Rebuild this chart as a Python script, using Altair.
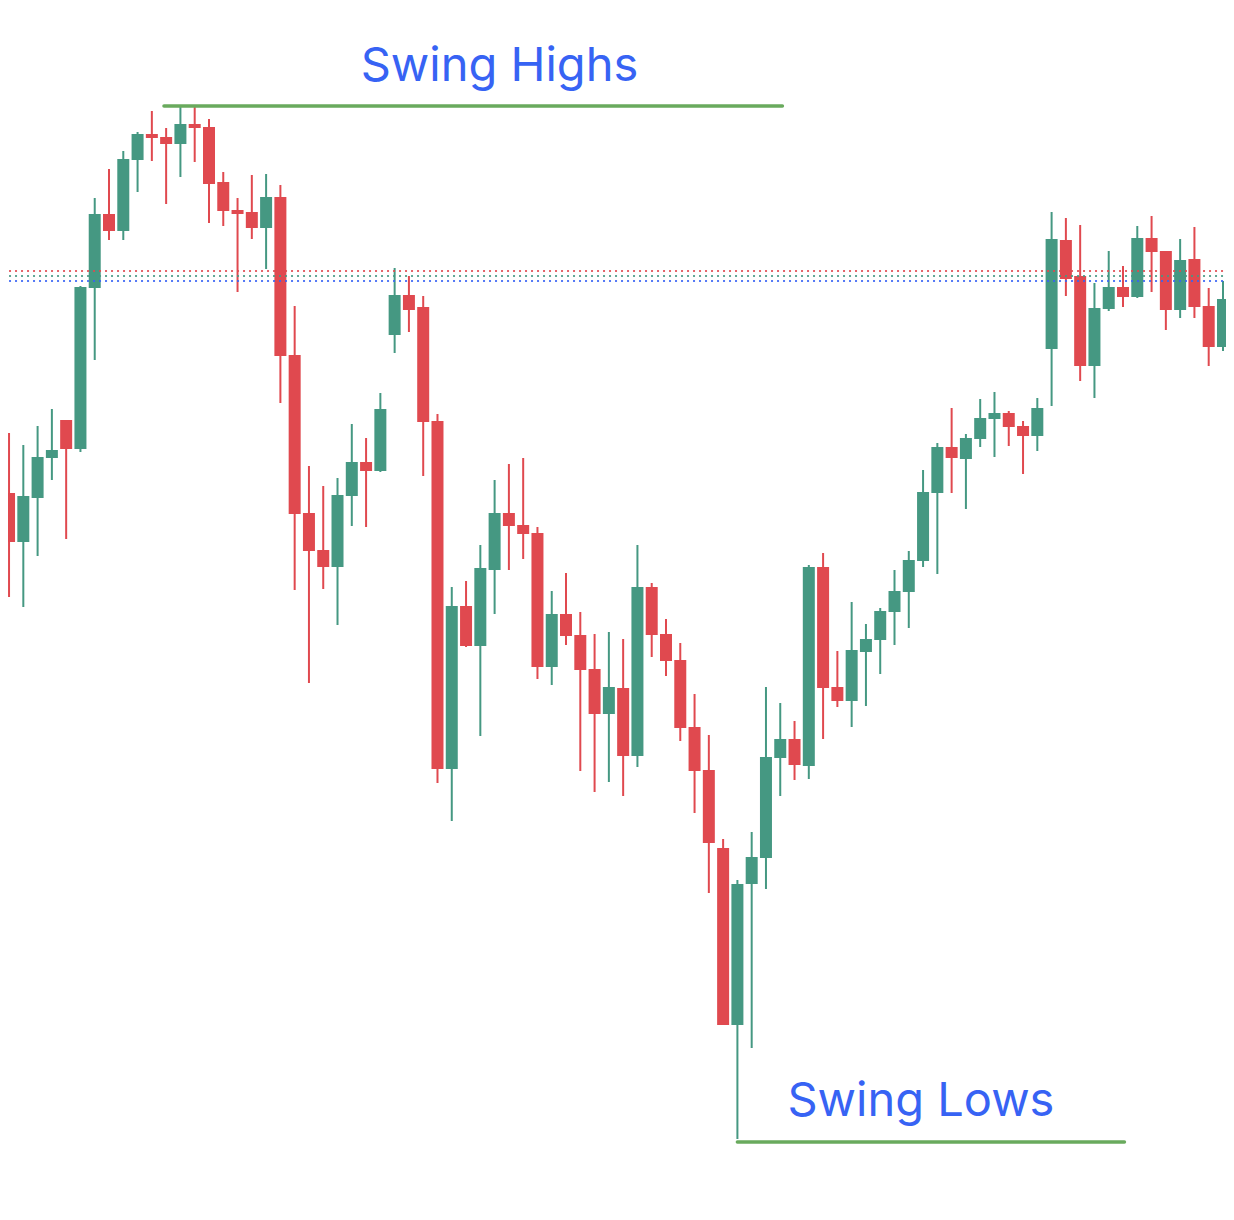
import altair as alt
import pandas as pd

# OHLC values (arbitrary price units)
opens = [80.7, 75.8, 80.2, 84.2, 88.0, 85.1, 101.2, 108.6, 106.9, 114.0,
         116.6, 116.3, 115.6, 117.6, 117.3, 111.8, 109.0, 108.8, 107.2, 110.3,
         94.5, 78.7, 75.0, 73.3, 80.4, 83.8, 82.9, 96.5, 100.5, 99.3,
         87.9, 53.1, 69.4, 65.4, 73.0, 78.7, 77.5, 76.7, 63.3, 68.6,
         66.5, 63.1, 58.6, 61.2, 54.4, 71.3, 66.6, 64.0, 57.3, 53.0,
         45.2, 27.5, 41.6, 44.2, 54.2, 56.1, 53.4, 73.3, 61.3, 59.9,
         64.8, 66.0, 68.8, 70.8, 73.9, 80.7, 85.3, 84.1, 86.1, 88.1,
         88.7, 87.4, 86.4, 95.1, 106.0, 102.4, 93.4, 99.1, 101.3, 100.3,
         106.2, 104.9, 99.0, 104.1, 99.4, 95.3]
highs = [86.7, 85.5, 87.4, 89.1, 88.0, 101.4, 110.2, 113.1, 114.9, 116.8,
         118.9, 117.2, 119.4, 119.4, 118.1, 112.8, 110.2, 112.5, 112.6, 111.5,
         99.4, 83.4, 81.4, 82.2, 87.6, 86.2, 90.7, 103.2, 102.4, 100.4,
         88.6, 71.3, 71.9, 75.5, 82.0, 83.6, 84.2, 77.3, 70.9, 72.7,
         68.8, 66.6, 66.8, 66.1, 75.5, 71.7, 68.1, 65.7, 60.6, 56.5,
         46.1, 42.0, 46.8, 61.3, 59.7, 57.9, 73.5, 74.7, 64.9, 69.8,
         67.6, 69.2, 73.0, 74.9, 83.0, 85.7, 89.2, 86.6, 90.1, 90.8,
         88.9, 87.9, 90.2, 108.8, 108.2, 107.5, 101.7, 104.9, 103.4, 107.4,
         108.4, 104.9, 106.1, 107.3, 101.2, 101.9]
lows = [70.3, 69.3, 74.4, 82.0, 76.1, 84.8, 94.0, 106.0, 106.0, 110.8,
        113.9, 109.6, 112.3, 113.8, 107.7, 107.4, 100.8, 106.1, 103.1, 89.7,
        71.0, 61.7, 71.1, 67.5, 77.4, 77.3, 82.8, 94.7, 96.8, 82.4,
        51.7, 47.9, 65.3, 56.4, 68.6, 73.0, 74.1, 62.1, 61.5, 65.5,
        52.9, 50.8, 51.8, 50.4, 53.3, 64.3, 62.4, 55.9, 48.7, 40.7,
        27.5, 16.1, 25.2, 41.1, 50.4, 52.0, 52.1, 56.1, 59.3, 57.3,
        59.4, 62.6, 65.5, 67.2, 73.3, 72.6, 80.7, 79.1, 85.3, 84.3,
        85.4, 82.6, 84.9, 89.4, 100.4, 91.9, 90.2, 98.9, 99.3, 100.2,
        100.8, 97.0, 98.2, 98.2, 93.4, 94.9]
closes = [75.8, 80.4, 84.3, 85.0, 85.1, 101.3, 108.6, 106.9, 114.1, 116.6,
          116.2, 115.6, 117.6, 117.2, 111.6, 108.9, 108.6, 107.2, 110.3, 94.4,
          78.6, 74.9, 73.3, 80.5, 83.8, 82.9, 89.1, 100.5, 99.0, 87.8,
          53.1, 69.4, 65.4, 73.2, 78.7, 77.4, 76.6, 63.3, 68.6, 66.4,
          63.0, 58.6, 61.3, 54.4, 71.3, 66.5, 63.9, 57.2, 52.9, 45.7,
          27.5, 41.6, 44.3, 54.3, 56.1, 53.5, 73.3, 61.2, 59.9, 65.0,
          66.1, 68.9, 70.9, 74.0, 80.8, 85.3, 84.2, 86.2, 88.2, 88.7,
          87.3, 86.4, 89.2, 106.1, 102.1, 93.4, 99.2, 101.3, 100.3, 106.2,
          104.8, 99.0, 104.0, 99.3, 95.3, 100.1]

# dotted reference levels
level_values = [102.9, 102.4, 101.9]
level_names = ["red", "green", "blue"]

# swing annotations
swing_labels = ["Swing Highs", "Swing Lows"]
swing_levels = [119.4, 15.8]
swing_from = [10.85, 51.0]
swing_to = [54.15, 78.1]
label_pos = [34.34, 63.85]
label_levels = [121.9, 18.4]

UP = "#459882"
DOWN = "#e0494f"
BLUE = "#3763f4"
LINE_GREEN = "#69aa5d"

W = 1218
H = 1150
PX = 14.4  # pixels per candle

df = pd.DataFrame({
    "i": list(range(len(opens))),
    "open": opens, "high": highs, "low": lows, "close": closes,
})
df["dir"] = ["up" if c >= o else "down" for o, c in zip(opens, closes)]

d0 = 4.0 / PX
d1 = d0 + W / PX

lv = pd.DataFrame({"level": level_values, "name": level_names,
                   "x0": [0.0] * 3, "x1": [d0 + 1226 / PX] * 3})
sw = pd.DataFrame({"label": swing_labels, "level": swing_levels,
                   "x0": swing_from, "x1": swing_to,
                   "lx": label_pos, "ly": label_levels})

xs = alt.Scale(domain=[d0, d1], nice=False, zero=False)
ys = alt.Scale(domain=[129.2 - H / 10.0, 129.2], nice=False, zero=False)
col = alt.Color("dir:N", scale=alt.Scale(domain=["up", "down"], range=[UP, DOWN]), legend=None)

base = alt.Chart(df)
wicks = base.mark_rule(strokeWidth=2).encode(
    x=alt.X("i:Q", scale=xs, axis=None),
    y=alt.Y("low:Q", scale=ys, axis=None),
    y2="high:Q",
    color=col,
)
bodies = base.mark_bar(size=12).encode(
    x=alt.X("i:Q", scale=xs, axis=None),
    y=alt.Y("open:Q", scale=ys, axis=None),
    y2="close:Q",
    color=col,
)
levels = alt.Chart(lv).mark_rule(strokeWidth=2, strokeDash=[2, 4], opacity=0.85).encode(
    x=alt.X("x0:Q", scale=xs, axis=None),
    x2="x1:Q",
    y=alt.Y("level:Q", scale=ys, axis=None),
    color=alt.Color("name:N", scale=alt.Scale(domain=level_names, range=[DOWN, UP, BLUE]), legend=None),
)
swing_lines = alt.Chart(sw).mark_rule(strokeWidth=3.5, strokeCap="round", color=LINE_GREEN).encode(
    x=alt.X("x0:Q", scale=xs, axis=None),
    x2="x1:Q",
    y=alt.Y("level:Q", scale=ys, axis=None),
)
swing_text = alt.Chart(sw).mark_text(font="Inter", fontSize=47, color=BLUE,
                                     align="center", baseline="alphabetic").encode(
    x=alt.X("lx:Q", scale=xs, axis=None),
    y=alt.Y("ly:Q", scale=ys, axis=None),
    text="label:N",
)

chart = alt.layer(wicks, bodies, levels, swing_lines, swing_text).resolve_scale(
    color="independent"
).properties(
    width=W, height=H, padding=0,
    autosize=alt.AutoSizeParams(type="none"),
    background="white",
).configure_view(stroke=None)

chart.save("out.html", embed_options={"renderer": "svg", "actions": False})
